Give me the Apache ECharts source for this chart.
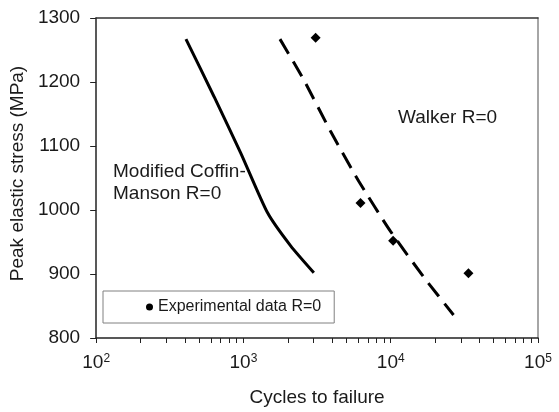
<!DOCTYPE html>
<html>
<head>
<meta charset="utf-8">
<script src="https://cdn.jsdelivr.net/npm/echarts@6/dist/echarts.min.js"></script>
<style>
html,body{margin:0;padding:0;background:#fff;}
#chart{width:559px;height:412px;}
</style>
</head>
<body>
<div id="chart"></div>
<script>
// Modified Coffin-Manson R=0 (solid curve)
const cmCycles = [407, 632, 959, 1455, 2092, 3006];
const cmStress = [1267, 1177, 1089, 996, 944, 902];
// Walker R=0 (dashed curve)
const walkerCycles = [1770, 2574, 3904, 6067, 9947, 17170, 26700];
const walkerStress = [1267, 1203, 1123, 1045, 967, 892, 836];
// Experimental data R=0
const expCycles = [3090, 6232, 10380, 33700];
const expStress = [1269, 1011, 952, 901];
// Axis ticks
const xMajorTicks = [100, 1000, 10000, 100000];
const xMinorMultipliers = [1, 2, 3, 4, 5, 6, 7, 8, 9];
const yTicks = [800, 900, 1000, 1100, 1200, 1300];

const xTickValues = [];
[100, 1000, 10000].forEach(d => xMinorMultipliers.forEach(m => xTickValues.push(d * m)));
xTickValues.push(100000);

const pair = (xs, ys) => xs.map((x, i) => [x, ys[i]]);
const FONT = 'Liberation Sans';
const TXT = '#1a1a1a';

const chart = echarts.init(document.getElementById('chart'), null, {renderer: 'canvas'});
chart.setOption({
  animation: false,
  backgroundColor: '#fff',
  grid: {left: 95, top: 18, right: 21, bottom: 73, containLabel: false},
  xAxis: [{
    type: 'log', logBase: 10, min: 100, max: 100000,
    name: 'Cycles to failure', nameLocation: 'middle', nameGap: 50,
    nameTextStyle: {fontFamily: FONT, fontSize: 19, color: TXT, lineHeight: 19},
    axisLine: {onZero: false, lineStyle: {color: '#222', width: 1.5}},
    axisTick: {show: true, inside: false, length: 5, customValues: xTickValues, lineStyle: {color: '#222', width: 1}},
    minorTick: {show: false},
    splitLine: {show: false},
    axisLabel: {
      margin: 15,
      customValues: xMajorTicks,
      formatter: v => '{b|10}{s|' + Math.round(Math.log10(v)) + '}',
      rich: {
        b: {fontFamily: FONT, fontSize: 19, color: TXT, lineHeight: 19},
        s: {fontFamily: FONT, fontSize: 12, color: TXT, lineHeight: 12, verticalAlign: 'top'}
      }
    }
  }, {
    type: 'value', position: 'top', min: 0, max: 1,
    axisLine: {show: true, onZero: false, lineStyle: {color: '#333', width: 1.5}},
    axisTick: {show: false}, axisLabel: {show: false}, splitLine: {show: false}
  }],
  yAxis: [{
    type: 'value', min: 800, max: 1300, interval: 100,
    name: 'Peak elastic stress (MPa)', nameLocation: 'middle', nameGap: 61,
    nameTextStyle: {fontFamily: FONT, fontSize: 19, color: TXT, padding: [0, 0, 0, 9]},
    axisLine: {show: true, onZero: false, lineStyle: {color: '#222', width: 1.5}},
    axisTick: {show: true, inside: false, length: 6, lineStyle: {color: '#222', width: 1}},
    splitLine: {show: false},
    axisLabel: {margin: 16, fontFamily: FONT, fontSize: 19, color: TXT, customValues: yTicks,
      formatter: v => String(v)}
  }, {
    type: 'value', position: 'right', min: 0, max: 1,
    axisLine: {show: true, onZero: false, lineStyle: {color: '#888', width: 1.5}},
    axisTick: {show: false}, axisLabel: {show: false}, splitLine: {show: false}
  }],
  legend: {
    left: 103, top: 291, orient: 'horizontal',
    padding: [7, 13, 7, 43],
    borderColor: '#808080', borderWidth: 1, backgroundColor: '#fff',
    itemWidth: 7, itemHeight: 7,
    textStyle: {fontFamily: FONT, fontSize: 16, color: TXT, lineHeight: 18},
    data: [{name: 'Experimental data R=0', icon: 'circle', itemStyle: {opacity: 1, color: '#000'}}]
  },
  graphic: [{
    type: 'text', left: 113, top: 161, z: 0,
    style: {text: 'Modified Coffin-\nManson R=0', font: '19px "Liberation Sans"', lineHeight: 22, fill: TXT}
  }, {
    type: 'text', left: 398, top: 107, z: 0,
    style: {text: 'Walker R=0', font: '19px "Liberation Sans"', lineHeight: 22, fill: TXT}
  }],
  series: [{
    name: 'Modified Coffin-Manson R=0', type: 'line', xAxisIndex: 0, yAxisIndex: 0,
    data: pair(cmCycles, cmStress), showSymbol: false, symbol: 'none', z: 3, smooth: 0.2,
    lineStyle: {color: '#000', width: 3, type: 'solid'}
  }, {
    name: 'Walker R=0', type: 'line', xAxisIndex: 0, yAxisIndex: 0,
    data: pair(walkerCycles, walkerStress), showSymbol: false, symbol: 'none', z: 3, smooth: 0.2,
    lineStyle: {color: '#000', width: 3, type: [17, 9]}
  }, {
    name: 'Experimental data R=0', type: 'scatter', xAxisIndex: 0, yAxisIndex: 0,
    data: pair(expCycles, expStress), symbol: 'diamond', symbolSize: 10, z: 4,
    itemStyle: {color: '#000', opacity: 1}
  }]
});
</script>
</body>
</html>
